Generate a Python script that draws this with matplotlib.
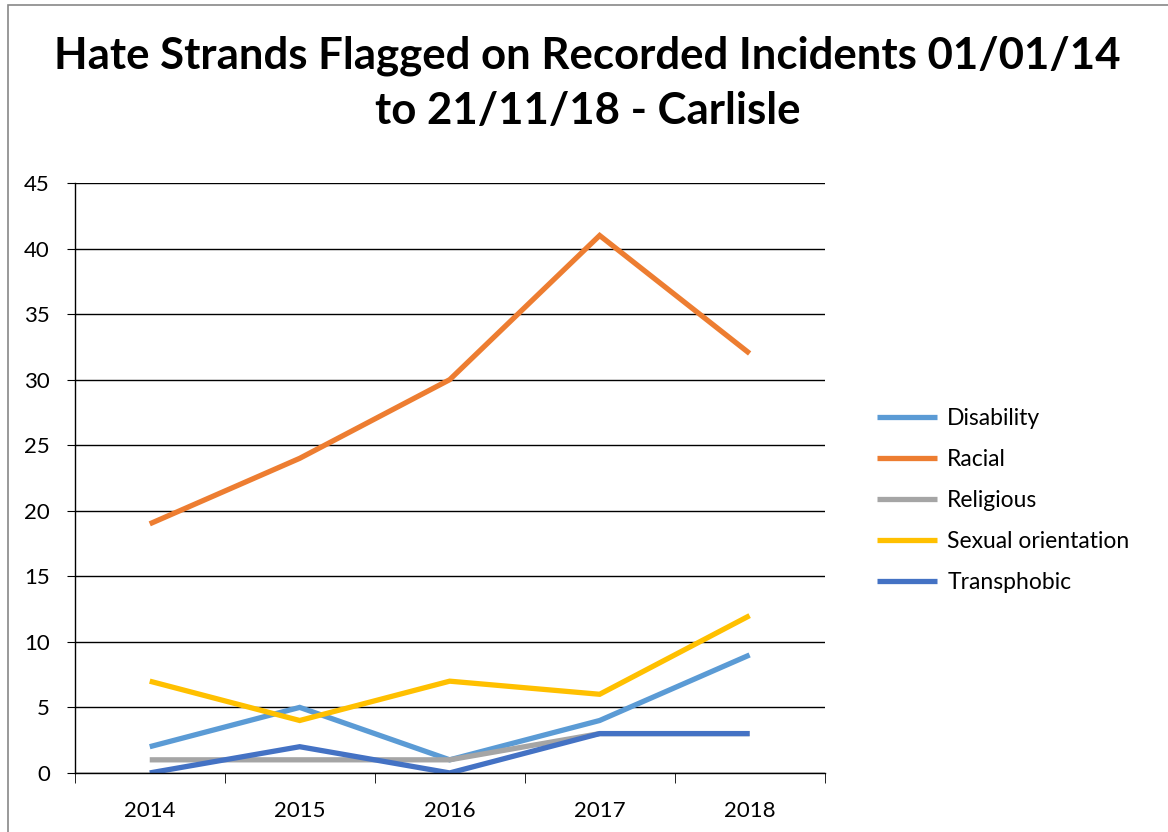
import matplotlib
matplotlib.use("Agg")
import matplotlib.pyplot as plt
from matplotlib.patches import Rectangle

plt.rcParams['font.family'] = ['Lato', 'DejaVu Sans']

years = ['2014', '2015', '2016', '2017', '2018']
disability = [2, 5, 1, 4, 9]
racial = [19, 24, 30, 41, 32]
religious = [1, 1, 1, 3, 3]
sexual_orientation = [7, 4, 7, 6, 12]
transphobic = [0, 2, 0, 3, 3]

series = [
    ('Disability', disability, '#5B9BD5'),
    ('Racial', racial, '#ED7D31'),
    ('Religious', religious, '#A5A5A5'),
    ('Sexual orientation', sexual_orientation, '#FFC000'),
    ('Transphobic', transphobic, '#4472C4'),
]

fig = plt.figure(figsize=(11.68, 8.32), dpi=100)
ax = fig.add_axes([0.064, 0.071, 0.642, 0.709])

x = list(range(len(years)))
for name, vals, col in series:
    ax.plot(x, vals, color=col, lw=3.8, label=name, solid_capstyle='butt',
            solid_joinstyle='miter')

ax.set_xlim(-0.5, len(years) - 0.5)
ax.set_ylim(0, 45)
ax.set_yticks(range(0, 46, 5))
ax.yaxis.grid(True, color='black', lw=1)
ax.set_axisbelow(True)
ax.set_xticks(x)
ax.set_xticklabels(years)
ax.set_xticks([i - 0.5 for i in range(len(years) + 1)], minor=True)
ax.tick_params(axis='x', which='major', length=0, pad=20, labelsize=16)
ax.tick_params(axis='x', which='minor', length=7, direction='out', color='black')
ax.tick_params(axis='y', length=6, direction='out', labelsize=16, pad=12)
for s in ['top', 'right']:
    ax.spines[s].set_visible(False)
for s in ['left', 'bottom']:
    ax.spines[s].set_color('black')
    ax.spines[s].set_linewidth(1)

fig.suptitle('Hate Strands Flagged on Recorded Incidents 01/01/14\nto 21/11/18 - Carlisle',
             x=0.503, y=0.957, fontsize=31.5, fontweight='bold', linespacing=1.45)

ax.legend(loc='center left', bbox_to_anchor=(1.043, 0.462), frameon=False,
          fontsize=16.5, handlelength=2.6, handletextpad=0.45, labelspacing=0.88)

fig.patches.append(Rectangle((0.007, -0.01), 1.1, 1.004, transform=fig.transFigure,
                             fill=False, edgecolor='#888888', lw=1.2))

fig.savefig('out.png', dpi=100)
